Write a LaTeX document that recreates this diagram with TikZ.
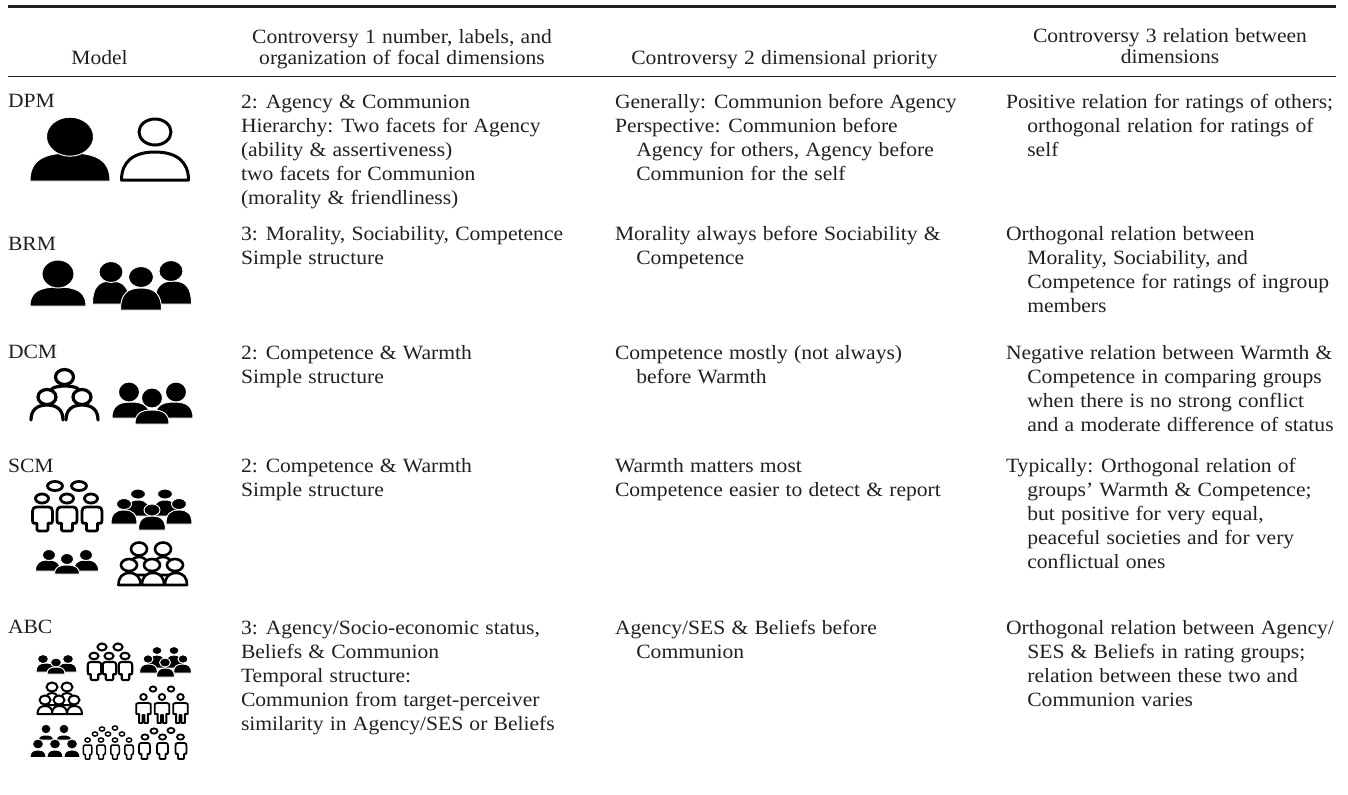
\documentclass[tikz,border=0pt]{standalone}
\usepackage{fontspec}
\setmainfont[FakeStretch=1.065,WordSpace=1.15]{Liberation Serif}
\definecolor{ink}{gray}{0.13}
\newcommand{\bodyfont}{\fontsize{15.2}{18}\selectfont}
\newcommand{\headfont}{\fontsize{15.2}{15.75}\selectfont}
\newcommand{\ind}{\hspace*{16pt}}
\newcommand{\tl}[1]{\begin{tabular}[t]{@{}l@{}}#1\end{tabular}}
\newcommand{\tc}[1]{\begin{tabular}[t]{@{}c@{}}#1\end{tabular}}
% solid head: cx cy rx ry
\newcommand{\hS}[4]{\path[fill=black,draw=white,line width=0.7pt] (#1,#2) ellipse ({#3} and {#4});}
% outlined head: cx cy rx ry lw
\newcommand{\hO}[5]{\path[fill=white,draw=black,line width=#5*0.75pt] (#1,#2) ellipse ({#3} and {#4});}
% solid dome body: cx top base width
\newcommand{\bS}[4]{\begin{scope}[shift={(#1,#2)},xscale=#4/2,yscale=#3-#2]
\path[fill=black,draw=white,line width=0.7pt,line join=round] (-1,1) .. controls (-1,.3) and (-.7,0) .. (0,0) .. controls (.7,0) and (1,.3) .. (1,1) -- cycle;
\end{scope}}
% outlined dome body: cx top base width lw
\newcommand{\bO}[5]{\begin{scope}[shift={(#1,#2)},xscale=#4/2,yscale=#3-#2]
\path[fill=white,draw=black,line width=#5*0.75pt,line join=round] (-1,1) .. controls (-1,.35) and (-.65,0) .. (0,0) .. controls (.65,0) and (1,.35) .. (1,1) -- cycle;
\end{scope}}
% open arc: cx top base width lw
\newcommand{\bA}[5]{\begin{scope}[shift={(#1,#2)},xscale=#4/2,yscale=#3-#2]
\path[draw=black,line width=#5*0.75pt,line cap=round] (-1,1) .. controls (-1,.35) and (-.65,0) .. (0,0) .. controls (.65,0) and (1,.35) .. (1,1);
\end{scope}}
% bottle body: cx top base width lw
\newcommand{\bB}[5]{\begin{scope}[shift={(#1,#2)},xscale=#4/2,yscale=#3-#2]
\path[fill=white,draw=black,line width=#5*0.75pt,line join=round] (-.55,.95) .. controls (-.55,1) and (-.5,1) .. (-.4,1) -- (.4,1) .. controls (.5,1) and (.55,1) .. (.55,.95) -- (.55,.68) -- (.85,.68) .. controls (.95,.68) and (1,.62) .. (1,.55) -- (1,.18) .. controls (1,.05) and (.85,0) .. (.6,0) -- (-.6,0) .. controls (-.85,0) and (-1,.05) .. (-1,.18) -- (-1,.55) .. controls (-1,.62) and (-.95,.68) .. (-.85,.68) -- (-.55,.68) -- cycle;
\end{scope}}
% legged body: cx top base width lw
\newcommand{\bL}[5]{\begin{scope}[shift={(#1,#2)},xscale=#4/2,yscale=#3-#2]
\path[fill=white,draw=black,line width=#5*0.75pt,line join=round] (-.6,1) -- (-.6,.55) -- (-1,.55) -- (-1,.05) -- (-.7,0) -- (.7,0) -- (1,.05) -- (1,.55) -- (.6,.55) -- (.6,1) -- (.14,1) -- (.14,.6) -- (-.14,.6) -- (-.14,1) -- cycle;
\end{scope}}
\begin{document}
\begin{tikzpicture}[x=0.75pt,y=-0.75pt,
  cell/.style={anchor=base west,inner sep=0pt,outer sep=0pt,text=ink,font=\bodyfont},
  head/.style={anchor=base,inner sep=0pt,outer sep=0pt,text=ink,font=\headfont}]
\useasboundingbox (0,0) rectangle (1348,794);
\fill[white] (0,0) rectangle (1348,794);
\draw[ink,line width=2.3pt] (8,6.3) -- (1336,6.3);
\draw[ink,line width=1pt] (8,76.7) -- (1336,76.7);
% headers
\node[head] (hm) at (99.5,64) {Model};
\node[head] (h1) at (402,43) {\tc{Controversy 1 number, labels, and\\organization of focal dimensions}};
\node[head] (h2) at (784.5,64) {Controversy 2 dimensional priority};
\node[head] (h3) at (1170,42.5) {\tc{Controversy 3 relation between\\dimensions}};
% model labels
\node[cell] (mdpm) at (8,107.5) {DPM};
\node[cell] (mbrm) at (8,250.7) {BRM};
\node[cell] (mdcm) at (8,358) {DCM};
\node[cell] (mscm) at (8,472) {SCM};
\node[cell] (mabc) at (8,633) {ABC};
% column 1
\node[cell] (a1) at (241,108) {\tl{2: Agency \& Communion\\Hierarchy: Two facets for Agency\\(ability \& assertiveness)\\two facets for Communion\\(morality \& friendliness)}};
\node[cell] (a2) at (241,240) {\tl{3: Morality, Sociability, Competence\\Simple structure}};
\node[cell] (a3) at (241,359) {\tl{2: Competence \& Warmth\\Simple structure}};
\node[cell] (a4) at (241,472) {\tl{2: Competence \& Warmth\\Simple structure}};
\node[cell] (a5) at (241,634) {\tl{3: Agency/Socio-economic status,\\Beliefs \& Communion\\Temporal structure:\\Communion from target-perceiver\\similarity in Agency/SES or Beliefs}};
% column 2
\node[cell] (b1) at (615,108) {\tl{Generally: Communion before Agency\\Perspective: Communion before\\\ind Agency for others, Agency before\\\ind Communion for the self}};
\node[cell] (b2) at (615,240) {\tl{Morality always before Sociability \&\\\ind Competence}};
\node[cell] (b3) at (615,359) {\tl{Competence mostly (not always)\\\ind before Warmth}};
\node[cell] (b4) at (615,472) {\tl{Warmth matters most\\Competence easier to detect \& report}};
\node[cell] (b5) at (615,634) {\tl{Agency/SES \& Beliefs before\\\ind Communion}};
% column 3
\node[cell] (c1) at (1006,108) {\tl{Positive relation for ratings of others;\\\ind orthogonal relation for ratings of\\\ind self}};
\node[cell] (c2) at (1006,240) {\tl{Orthogonal relation between\\\ind Morality, Sociability, and\\\ind Competence for ratings of ingroup\\\ind members}};
\node[cell] (c3) at (1006,359) {\tl{Negative relation between Warmth \&\\\ind Competence in comparing groups\\\ind when there is no strong conflict\\\ind and a moderate difference of status}};
\node[cell] (c4) at (1006,472) {\tl{Typically: Orthogonal relation of\\\ind groups’ Warmth \& Competence;\\\ind but positive for very equal,\\\ind peaceful societies and for very\\\ind conflictual ones}};
\node[cell] (c5) at (1006,634) {\tl{Orthogonal relation between Agency/\\\ind SES \& Beliefs in rating groups;\\\ind relation between these two and\\\ind Communion varies}};
% ---- icons ----
% DPM
\bS{70}{153}{181}{80}\hS{70}{136.7}{23.5}{19.5}
\bO{155}{152}{180}{67}{3}\hO{155}{132}{16}{13}{3}
% BRM
\bS{58}{287}{306}{56}\hS{58}{274}{16}{14}
\bS{111}{281}{304}{37}\hS{111}{272}{12}{10.5}
\bS{173}{281}{304}{37}\hS{171}{271}{12}{10.5}
\bS{141}{288}{310}{41}\hS{141}{277}{12.5}{10.5}
% DCM outline
\bA{65}{386}{394}{32}{3.2}
\bA{47}{405}{420}{32}{3.2}\bA{82}{405}{420}{32}{3.2}
\hO{64.5}{377}{9}{7.5}{3.2}\hO{47}{397}{9}{7.5}{3.2}\hO{82}{397}{9}{7.5}{3.2}
% DCM solid
\bS{131}{402}{418}{38}\hS{129}{392}{10.5}{10}
\bS{174}{402}{418}{38}\hS{176}{392}{10.5}{10}
\bS{152}{410}{424}{34}\hS{152}{398}{10.5}{10}
% SCM bottles
\hO{55}{486}{7.5}{4.5}{2.8}\hO{79}{486}{7.5}{4.5}{2.8}
\bB{42.5}{507}{531}{20}{2.8}\bB{67}{507}{531}{20}{2.8}\bB{92}{507}{531}{20}{2.8}
\hO{42}{498.5}{6.5}{4.5}{2.8}\hO{67}{498.5}{6.5}{4.5}{2.8}\hO{91}{498.5}{6.5}{4.5}{2.8}
% SCM solid five
\bS{138}{500}{516}{25}\hS{138}{494}{7.5}{5}
\bS{165}{500}{516}{25}\hS{165}{494}{7.5}{5}
\bS{124}{510}{524}{26}\hS{124}{504}{7.5}{5.5}
\bS{179}{510}{524}{26}\hS{179}{504}{7.5}{5.5}
\bS{152}{516}{530}{27}\hS{152}{510}{8}{6}
% SCM trio
\bS{48}{560}{571}{25}\hS{49}{555}{6.5}{5.5}
\bS{86}{560}{571}{25}\hS{86}{555}{6.5}{5.5}
\bS{67}{565}{574}{25}\hS{67}{559}{6.5}{5.5}
% SCM domes
\bO{139}{557}{575}{22}{2.6}\bO{163}{557}{575}{22}{2.6}
\hO{139}{549}{8}{6.5}{2.6}\hO{163}{549}{8}{6.5}{2.6}
\bO{129.5}{573}{585}{22}{2.6}\bO{153}{573}{585}{22}{2.6}\bO{176}{573}{585}{22}{2.6}
\hO{129}{565}{8}{6}{2.6}\hO{152}{565}{8}{6}{2.6}\hO{175}{565}{8}{6}{2.6}
% ABC trio
\bS{46}{663}{672}{20}\hS{43}{659}{5.5}{4.5}
\bS{67}{663}{672}{20}\hS{68}{659}{5.5}{4.5}
\bS{56}{667}{674}{18}\hS{56}{662.5}{5.5}{4.5}
% ABC bottles
\hO{102}{647}{4.5}{3.5}{2.1}\hO{118}{647}{4.5}{3.5}{2.1}
\bB{94.5}{662}{680}{13.5}{2.1}\bB{109.5}{662}{680}{13.5}{2.1}\bB{125.5}{662}{680}{13.5}{2.1}
\hO{94}{656}{4.5}{3.3}{2.1}\hO{109}{656}{4.5}{3.3}{2.1}\hO{125}{656}{4.5}{3.3}{2.1}
% ABC solid five
\bS{157}{655}{668}{18}\hS{157}{650.5}{5}{4}
\bS{174}{655}{668}{18}\hS{174}{650.5}{5}{4}
\bS{148.5}{664}{673}{18}\hS{148}{659}{5}{4.2}
\bS{182.5}{664}{673}{18}\hS{183}{659}{5}{4.2}
\bS{165.5}{668}{677}{18}\hS{165}{662.5}{5.5}{4.5}
% ABC domes
\bO{52}{693}{705}{15}{2}\bO{67}{693}{705}{15}{2}
\hO{52}{687}{5.5}{4.5}{2}\hO{67}{687}{5.5}{4.5}{2}
\bO{45}{706}{714}{15}{2}\bO{59.5}{706}{714}{15}{2}\bO{74.5}{706}{714}{15}{2}
\hO{45}{700}{5.5}{4.5}{2}\hO{59}{700}{5.5}{4.5}{2}\hO{74}{700}{5.5}{4.5}{2}
% ABC legged
\hO{153}{689}{3.2}{2.6}{1.9}\hO{171}{689}{3.2}{2.6}{1.9}
\hO{143.5}{697}{3.2}{3}{1.9}\hO{162}{697}{3.2}{3}{1.9}\hO{180.5}{697}{3.2}{3}{1.9}
\bL{143.5}{703}{723}{14.5}{1.9}\bL{162}{703}{723}{14.5}{1.9}\bL{180.5}{703}{723}{14.5}{1.9}
% ABC solid five (stacked)
\hS{46}{729}{5}{4.8}\hS{64}{729}{5}{4.8}
\bS{46}{735}{740}{15}\bS{64}{735}{740}{15}
\hS{38}{744}{5.5}{5}\hS{55}{744}{5.5}{5}\hS{72}{744}{5.5}{5}
\bS{38}{750}{757.5}{16}\bS{55}{750}{757.5}{16}\bS{72}{750}{757.5}{16}
% ABC small bottles
\hO{102}{729}{2.7}{2.1}{1.4}\hO{115}{728}{2.7}{2.1}{1.4}
\hO{95}{734}{2.7}{2.1}{1.4}\hO{108}{734}{2.7}{2.1}{1.4}\hO{122}{734}{2.7}{2.1}{1.4}
\hO{87.6}{740}{2.7}{2.1}{1.4}\hO{101}{740}{2.7}{2.1}{1.4}\hO{115}{740}{2.7}{2.1}{1.4}\hO{129}{740}{2.7}{2.1}{1.4}
\bB{87.6}{745}{759}{8.5}{1.5}\bB{101}{745}{759}{8.5}{1.5}\bB{115}{745}{759}{8.5}{1.5}\bB{129}{745}{759}{8.5}{1.5}
% ABC medium bottles
\hO{154}{731}{3.5}{2.6}{1.8}\hO{171}{730.5}{3.5}{2.6}{1.8}
\hO{145}{737}{3.5}{2.6}{1.8}\hO{162.5}{737}{3.5}{2.6}{1.8}\hO{180.5}{737}{3.5}{2.6}{1.8}
\bB{144.5}{743}{759}{11}{1.8}\bB{162.5}{743}{759}{11}{1.8}\bB{181}{743}{759}{11}{1.8}
\end{tikzpicture}
\end{document}
